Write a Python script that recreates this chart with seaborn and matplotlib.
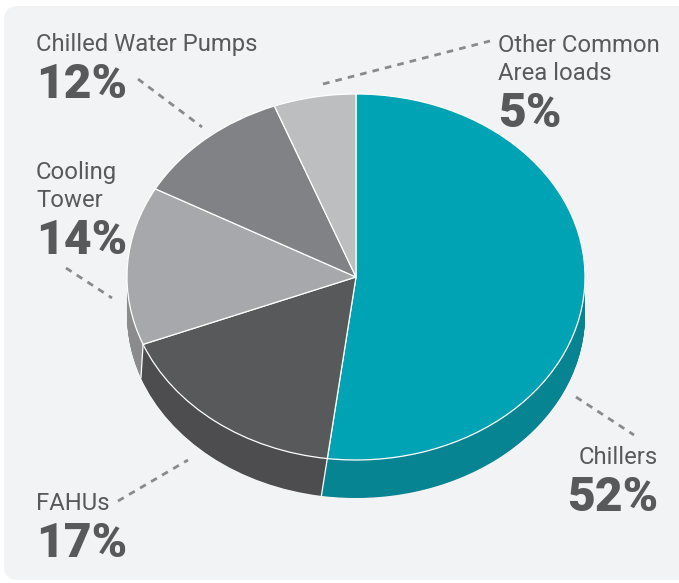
import numpy as np
import matplotlib.pyplot as plt
from matplotlib.patches import FancyBboxPatch
import seaborn as sns

loads = ['Chillers', 'FAHUs', 'Cooling\nTower', 'Chilled Water Pumps', 'Other Common\nArea loads']
label_pcts = [52, 17, 14, 12, 5]
# slice sizes as drawn in the picture, the last two differ a little from their labels
slice_shares = [52, 17, 14, 11.2, 5.8]

top_colors = sns.color_palette(['#00a3b4', '#58595b', '#a7a8ab', '#808285', '#bcbec0'])
side_colors = sns.color_palette(['#078492', '#4d4d4f', '#8b8b8e', '#808285', '#bcbec0'])

TEXT = '#58595b'
W, H = 679, 583
CX, CY, RX, RY = 356, 277, 229, 183
DEPTH = 38 / RY
TWIST = 1.5  # the wall seams lean slightly, degrees at the bottom rim

sns.set_theme(style='white')
plt.rcParams['font.family'] = ['Roboto', 'DejaVu Sans']

fig = plt.figure(figsize=(W / 100, H / 100), dpi=100)
fig.patch.set_facecolor('white')

# pixel-space layer for the panel, labels and leader lines
ax_bg = fig.add_axes([0, 0, 1, 1], zorder=0)
ax_bg.set_xlim(0, W)
ax_bg.set_ylim(H, 0)
ax_bg.axis('off')
ax_bg.add_patch(FancyBboxPatch((4, 6), W + 30, H - 9, boxstyle='round,pad=0,rounding_size=14',
                               fc='#f2f3f5', ec='none'))


def label(x, base, name, pct, ha='left', step=28):
    lines = name.split('\n')
    for i, line in enumerate(lines):
        ax_bg.text(x, base + i * step, line, fontsize=17.2, color=TEXT, ha=ha, va='baseline')
    ax_bg.text(x, base + (len(lines) - 1) * step + 47, f'{pct}%', fontsize=34.6, fontweight='black',
               color=TEXT, ha=ha, va='baseline')


label(658, 464, loads[0], label_pcts[0], ha='right')
label(36, 510, loads[1], label_pcts[1])
label(36, 179, loads[2], label_pcts[2])
label(36, 51, loads[3], label_pcts[3])
label(498, 52, loads[4], label_pcts[4])

leaders = [((576, 397), (634, 435)), ((118, 501), (188, 460)), ((66, 268), (112, 298)),
           ((138, 79), (202, 127)), ((323, 84), (490, 41))]
for a, b in leaders:
    ax_bg.plot([a[0], b[0]], [a[1], b[1]], color='#8a8a8c', lw=2, ls=(0, (2.4, 2.2)))

# pie layer squashed into an ellipse, the side wall is a stack of offset pies
ax = fig.add_axes([0, 0, 1, 1], zorder=1)
ax.patch.set_alpha(0)
for frac in np.linspace(1, 0, 60):
    ax.pie(slice_shares, colors=side_colors, startangle=90 - TWIST * frac, counterclock=False,
           center=(0, -DEPTH * frac), radius=1, wedgeprops={'linewidth': 0}, frame=False)
ax.pie(slice_shares, colors=top_colors, startangle=90, counterclock=False, radius=1,
       wedgeprops={'linewidth': 0.9, 'edgecolor': 'white'}, frame=False)

# white seams where the slices meet on the front wall
angles = np.deg2rad(np.cumsum(slice_shares) / sum(slice_shares) * 360)
for ang in angles[:2]:
    low = ang + np.deg2rad(TWIST)
    ax.plot([np.sin(ang), np.sin(low)], [np.cos(ang), np.cos(low) - DEPTH], color='white', lw=0.9)

ax.set_aspect('auto')
ax.set_xlim(-CX / RX, (W - CX) / RX)
ax.set_ylim((CY - H) / RY, CY / RY)
ax.axis('off')

fig.savefig('out.png', dpi=100)
